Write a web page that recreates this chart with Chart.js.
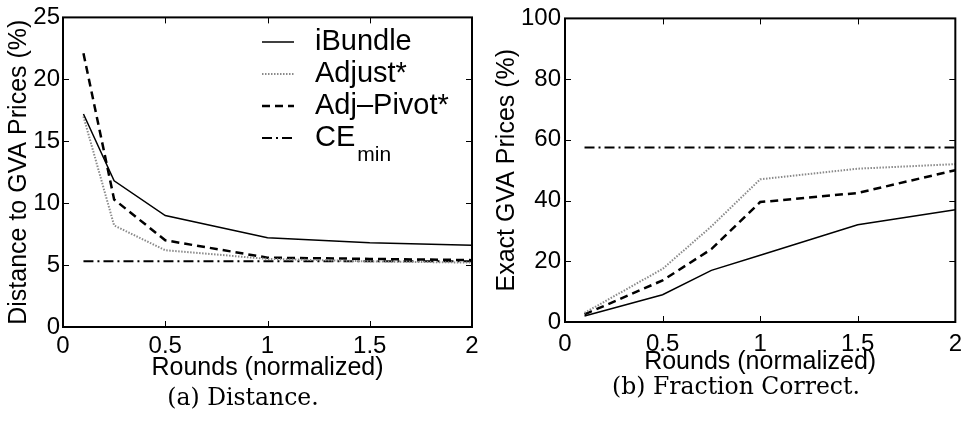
<!DOCTYPE html>
<html>
<head>
<meta charset="utf-8">
<script src="https://cdn.jsdelivr.net/npm/chart.js@4.4.1/dist/chart.umd.min.js"></script>
<style>
  body { margin: 0; background: #fff; }
  #wrap { position: relative; width: 970px; height: 425px; overflow: hidden; }
  canvas { position: absolute; top: 0; }
  .caption { position: absolute; font-family: "DejaVu Serif", serif; font-size: 23.5px; color: #000;
             transform: translate(-50%, -50%); white-space: nowrap; }
</style>
</head>
<body>
<div id="wrap">
  <canvas id="distChart" width="485" height="425" style="left:0"></canvas>
  <canvas id="fracChart" width="485" height="425" style="left:485px"></canvas>
  <div class="caption" style="left:243px; top:397px">(a) Distance.</div>
  <div class="caption" style="left:736px; top:386px">(b) Fraction Correct.</div>
</div>
<script>
// (a) distance to GVA prices
const distRounds = [0.1, 0.25, 0.5, 1, 1.5, 2];
const distIBundle = [17.2, 11.8, 9.0, 7.2, 6.8, 6.6];
const distAdjust = [17.0, 8.2, 6.2, 5.5, 5.3, 5.2];
const distAdjPivot = [22.1, 10.3, 7.0, 5.6, 5.5, 5.4];
const distCERounds = [0.1, 2];
const distCEmin = [5.3, 5.3];
const distYTicks = [0, 5, 10, 15, 20, 25];

// (b) fraction of exact GVA prices
const fracRounds = [0.1, 0.5, 0.75, 1, 1.5, 2];
const fracIBundle = [2, 9, 17, 22, 32, 37];
const fracAdjust = [3, 17.5, 31.5, 47, 50.5, 52];
const fracAdjPivot = [2.5, 13.7, 24, 39.5, 42.5, 50];
const fracCERounds = [0.1, 2];
const fracCEmin = [57.5, 57.5];
const fracYTicks = [0, 20, 40, 60, 80, 100];

const xTicks = [0, 0.5, 1, 1.5, 2];
const seriesNames = ['iBundle', 'Adjust*', 'Adj\u2013Pivot*', 'CE'];

Chart.defaults.font.family = '"Liberation Sans", Arial, sans-serif';
Chart.defaults.color = '#000';

const styles = [
    { borderColor: '#000', borderWidth: 1.5, borderDash: [] },
    { borderColor: '#8a8a8a', borderWidth: 2, borderDash: [1.5, 1.5] },
    { borderColor: '#000', borderWidth: 2.5, borderDash: [8, 5] },
    { borderColor: '#000', borderWidth: 2, borderDash: [10, 4, 2, 4] },
];

const pts = (xs, ys) => xs.map((x, i) => ({ x: x, y: ys[i] }));

const makeDatasets = (rounds, a, b, c, ceRounds, ce) => [
    { label: seriesNames[0], data: pts(rounds, a) },
    { label: seriesNames[1], data: pts(rounds, b) },
    { label: seriesNames[2], data: pts(rounds, c) },
    { label: seriesNames[3], data: pts(ceRounds, ce) },
].map((d, i) => Object.assign(d, styles[i], { pointRadius: 0, tension: 0, fill: false }));

// box round the plot with inward ticks on all sides
const framePlugin = {
    id: 'frame',
    afterDatasetsDraw(chart) {
        const { ctx, chartArea: a, scales: { x, y } } = chart;
        const len = 6;
        ctx.save();
        ctx.strokeStyle = '#000';
        ctx.lineWidth = 1;
        ctx.beginPath();
        x.ticks.forEach(t => {
            const px = Math.round(x.getPixelForValue(t.value)) + 0.5;
            ctx.moveTo(px, a.bottom); ctx.lineTo(px, a.bottom - len);
            ctx.moveTo(px, a.top); ctx.lineTo(px, a.top + len);
        });
        y.ticks.forEach(t => {
            const py = Math.round(y.getPixelForValue(t.value)) + 0.5;
            ctx.moveTo(a.left, py); ctx.lineTo(a.left + len, py);
            ctx.moveTo(a.right, py); ctx.lineTo(a.right - len, py);
        });
        ctx.stroke();
        ctx.lineWidth = 2;
        ctx.strokeRect(a.left, a.top, a.right - a.left, a.bottom - a.top);
        ctx.restore();
    }
};

// legend drawn by hand so CE can carry its "min" subscript
const legendPlugin = {
    id: 'subLegend',
    afterDraw(chart) {
        const { ctx } = chart;
        const rows = [42, 74, 106, 138];
        ctx.save();
        chart.data.datasets.forEach((ds, i) => {
            const y = rows[i];
            ctx.strokeStyle = ds.borderColor;
            ctx.lineWidth = ds.borderWidth;
            ctx.setLineDash(ds.borderDash);
            ctx.beginPath();
            ctx.moveTo(262, y);
            ctx.lineTo(294, y);
            ctx.stroke();
            ctx.setLineDash([]);
            ctx.fillStyle = '#000';
            ctx.textBaseline = 'middle';
            ctx.font = '29px "Liberation Sans", Arial, sans-serif';
            ctx.fillText(ds.label, 315, y);
            if (i === 3) {
                const w = ctx.measureText(ds.label).width;
                ctx.font = '21px "Liberation Sans", Arial, sans-serif';
                ctx.fillText('min', 315 + w + 2, y + 17);
            }
        });
        ctx.restore();
    }
};

const makeOptions = (cfg) => ({
    responsive: false,
    animation: false,
    devicePixelRatio: 1,
    layout: { padding: cfg.padding },
    plugins: { legend: { display: false }, tooltip: { enabled: false } },
    scales: {
        x: {
            type: 'linear',
            min: 0, max: 2,
            afterBuildTicks: s => { s.ticks = xTicks.map(v => ({ value: v })); },
            afterFit: s => { s.height = cfg.xHeight; },
            grid: { display: false, drawTicks: false },
            border: { display: false },
            ticks: { font: { size: 24 }, padding: cfg.xTickPad, maxRotation: 0, callback: v => String(v) },
            title: { display: true, text: 'Rounds (normalized)', font: { size: 25 }, padding: 0 }
        },
        y: {
            min: cfg.yTicks[0], max: cfg.yTicks[cfg.yTicks.length - 1],
            afterBuildTicks: s => { s.ticks = cfg.yTicks.map(v => ({ value: v })); },
            afterFit: s => { s.width = cfg.yWidth; },
            grid: { display: false, drawTicks: false },
            border: { display: false },
            ticks: { font: { size: 24 }, padding: cfg.yTickPad, callback: v => String(v) },
            title: { display: true, text: cfg.yTitle, font: { size: 25 }, padding: 0 }
        }
    }
});

new Chart(document.getElementById('distChart'), {
    type: 'line',
    data: { datasets: makeDatasets(distRounds, distIBundle, distAdjust, distAdjPivot, distCERounds, distCEmin) },
    options: makeOptions({
        padding: { left: 4, right: 13, top: 12, bottom: 42 },
        xHeight: 56, yWidth: 59, xTickPad: 5, yTickPad: 3,
        yTicks: distYTicks, yTitle: 'Distance to GVA Prices (%)'
    }),
    plugins: [framePlugin, legendPlugin]
});

new Chart(document.getElementById('fracChart'), {
    type: 'line',
    data: { datasets: makeDatasets(fracRounds, fracIBundle, fracAdjust, fracAdjPivot, fracCERounds, fracCEmin) },
    options: makeOptions({
        padding: { left: 7, right: 8, top: 18, bottom: 48 },
        xHeight: 55, yWidth: 73, xTickPad: 8, yTickPad: 4,
        yTicks: fracYTicks, yTitle: 'Exact GVA Prices (%)'
    }),
    plugins: [framePlugin]
});
</script>
</body>
</html>
